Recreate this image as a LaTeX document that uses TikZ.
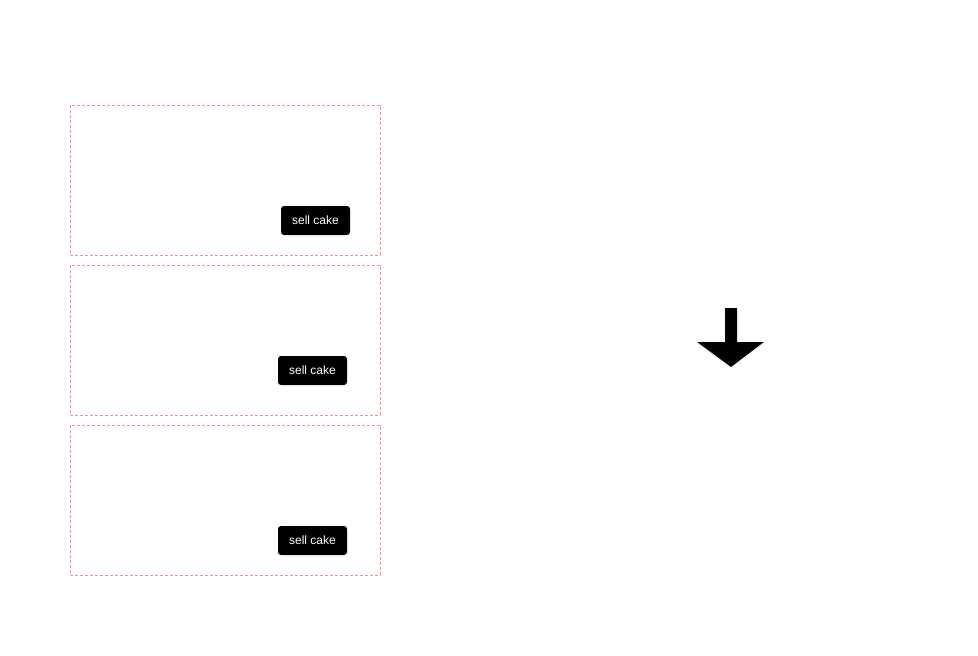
\documentclass[tikz,border=0pt]{standalone}
\usepackage{fontspec}
\setmainfont{Liberation Sans}
\definecolor{framepink}{HTML}{FF8A8A}
\begin{document}
\begin{tikzpicture}[x=1pt,y=-1pt,
  frame/.style={draw=framepink, dashed, dash pattern=on 3pt off 2pt, line width=0.8pt},
  btn/.style={fill=black, rounded corners=3pt, text=white, font=\fontsize{12}{14}\selectfont, inner sep=0pt, minimum width=69pt, minimum height=29pt}]
\useasboundingbox (0,0) rectangle (978,656);
\path[frame] (70,105) rectangle (380,255);
\path[frame] (70,265) rectangle (380,415);
\path[frame] (70,425) rectangle (380,575);
\node[btn] (b1) at (315.5,220.5) {sell cake};
\node[btn] (b2) at (312.5,370.5) {sell cake};
\node[btn] (b3) at (312.5,540.5) {sell cake};
\fill (725,308) -- (737,308) -- (737,342) -- (764,342) -- (731,367) -- (697,342) -- (725,342) -- cycle;
\end{tikzpicture}
\end{document}
